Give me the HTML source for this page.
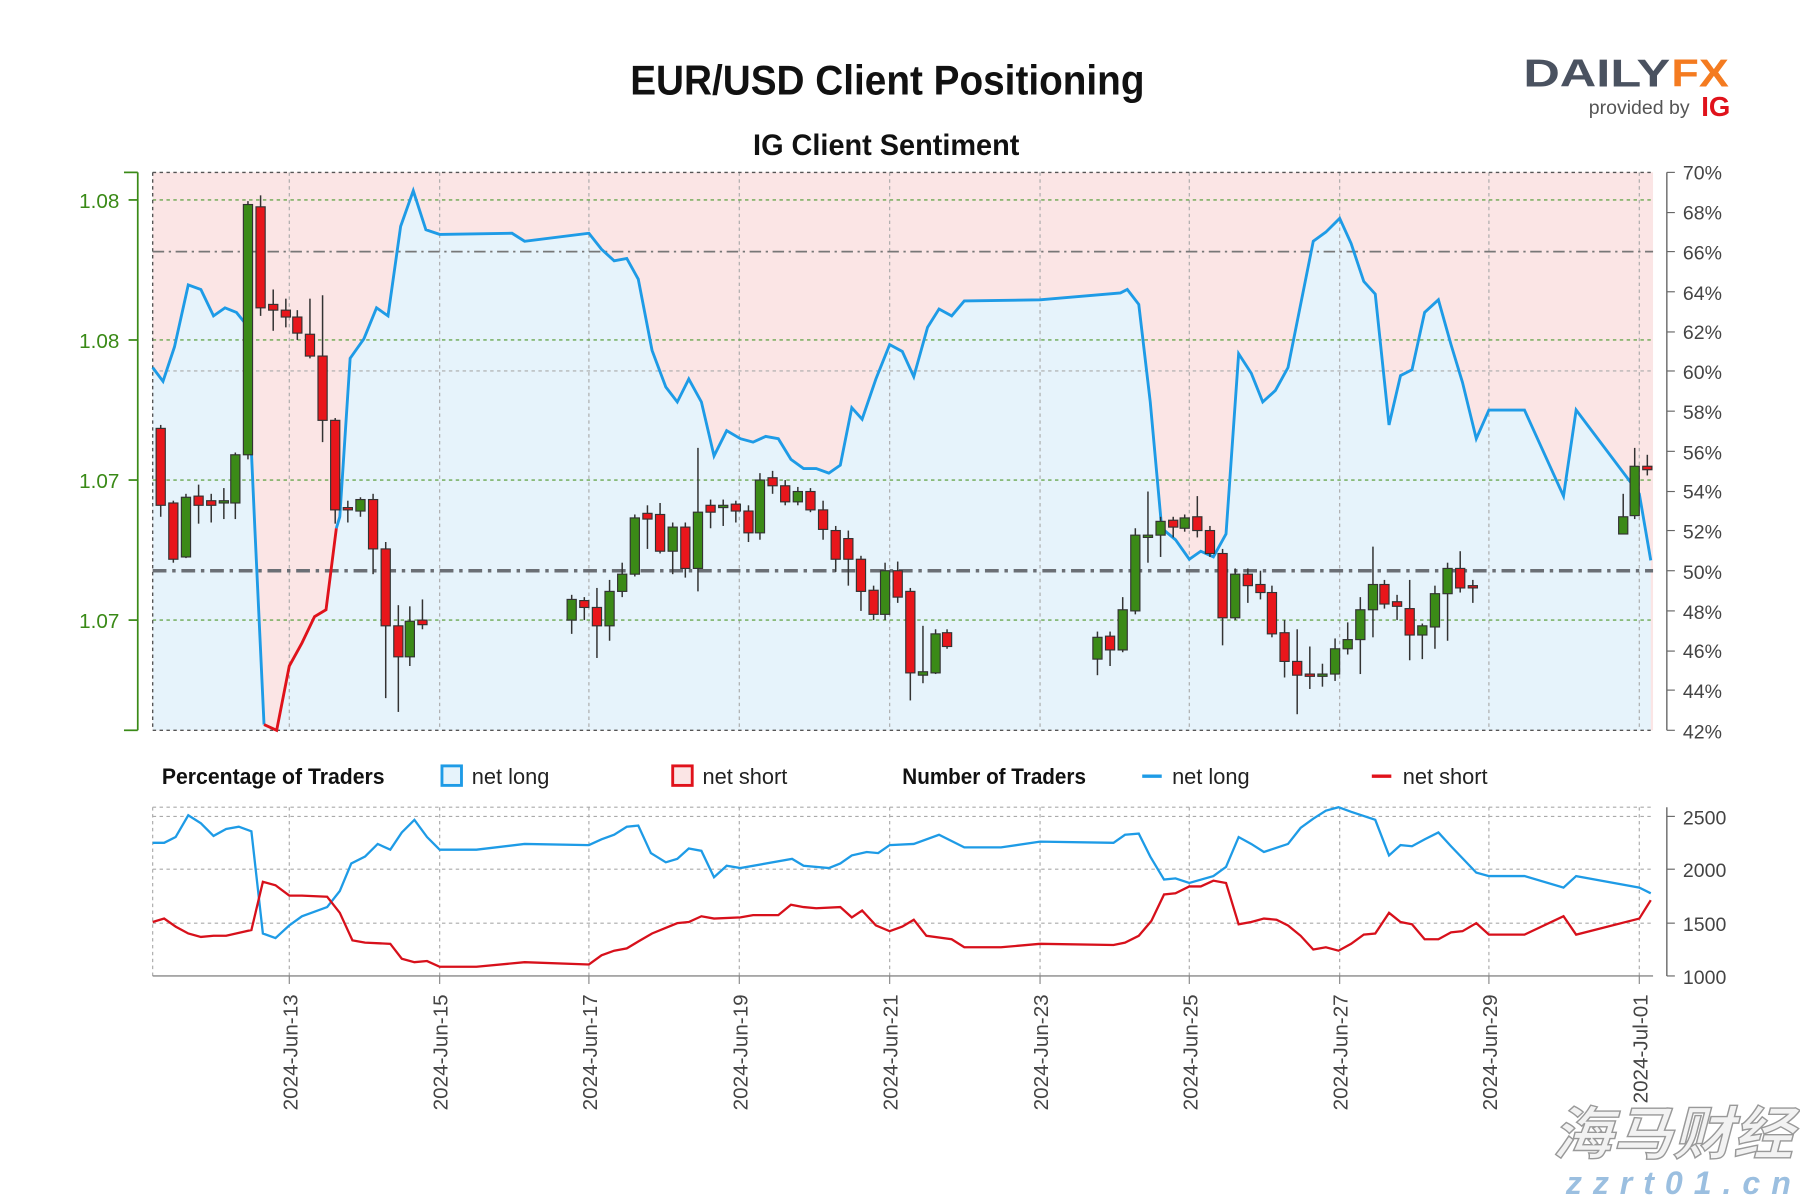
<!DOCTYPE html>
<html><head><meta charset="utf-8"><style>
html,body{margin:0;padding:0;background:#fff;}
svg{display:block;font-family:"Liberation Sans",sans-serif;}
.r{fill:#e8161b;stroke:#333;stroke-width:1}
.g{fill:#3b8a17;stroke:#333;stroke-width:1}
.w{stroke:#333;stroke-width:1.3}
.dl{font-size:18px;fill:#444}
.rl{font-size:17px;fill:#444}
</style></head><body>
<svg width="1800" height="1200" viewBox="0 0 1568 1045">
<rect width="1568" height="1045" fill="#fff"/>
<text x="773" y="82" text-anchor="middle" font-size="36" font-weight="bold" textLength="448" lengthAdjust="spacingAndGlyphs" fill="#111">EUR/USD Client Positioning</text>
<text x="772" y="135" text-anchor="middle" font-size="26" font-weight="bold" textLength="232" lengthAdjust="spacingAndGlyphs" fill="#111">IG Client Sentiment</text>
<text x="1327" y="75" font-size="34" font-weight="bold" fill="#4a5260" textLength="128" lengthAdjust="spacingAndGlyphs">DAILY</text>
<text x="1456" y="75" font-size="34" font-weight="bold" fill="#f47b20" textLength="50" lengthAdjust="spacingAndGlyphs">FX</text>
<text x="1384" y="99" font-size="17" fill="#555">provided by</text>
<text x="1482" y="101" font-size="24" font-weight="bold" fill="#e0121b">IG</text>

<rect x="133" y="150" width="1307" height="486" fill="#fbe5e5"/>
<path fill="#e6f3fb" d="M133,320 L142,332 L152,302 L164,248 L175,252 L186,275 L196,268 L206,272 L214,282 L222,460 L230,631 L241,636 L252,580 L263,560 L274,537 L284,531 L293,460 L296,450 L305,312 L317,295 L328,268 L338,275 L349,197 L360,166 L371,200 L383,204 L446,203 L457,210 L513,203 L524,217 L535,227 L546,225 L556,243 L568,305 L580,337 L590,350 L600,330 L611,350 L622,397 L633,375 L645,382 L656,385 L667,380 L678,382 L689,400 L700,408 L711,408 L722,412 L732,405 L742,355 L751,365 L763,330 L775,300 L786,306 L796,328 L808,285 L818,269 L829,275 L840,262 L906,261 L976,255 L982,252 L992,265 L1002,350 L1012,460 L1024,470 L1036,487 L1046,480 L1057,485 L1068,465 L1079,308 L1090,325 L1100,350 L1111,340 L1122,320 L1144,210 L1155,202 L1167,190 L1177,212 L1188,245 L1198,256 L1210,370 L1220,327 L1230,322 L1241,272 L1253,261 L1264,300 L1274,333 L1286,382 L1297,357 L1328,357 L1362,432 L1373,357 L1428,430 L1438,488 L1438,636 L133,636 Z"/>
<g stroke="#aaa" stroke-width="1" stroke-dasharray="3,3">
<line x1="252" y1="150" x2="252" y2="636"/><line x1="383" y1="150" x2="383" y2="636"/><line x1="513" y1="150" x2="513" y2="636"/><line x1="644" y1="150" x2="644" y2="636"/><line x1="775" y1="150" x2="775" y2="636"/><line x1="906" y1="150" x2="906" y2="636"/><line x1="1036" y1="150" x2="1036" y2="636"/><line x1="1167" y1="150" x2="1167" y2="636"/><line x1="1297" y1="150" x2="1297" y2="636"/><line x1="1428" y1="150" x2="1428" y2="636"/>
<line x1="133" y1="323" x2="1440" y2="323"/>
</g>
<g stroke="#6aa84f" stroke-width="1.2" stroke-dasharray="3,3">
<line x1="133" y1="174" x2="1440" y2="174"/><line x1="133" y1="296" x2="1440" y2="296"/><line x1="133" y1="418" x2="1440" y2="418"/><line x1="133" y1="540" x2="1440" y2="540"/>
</g>
<g stroke="#555" stroke-width="1.2" stroke-dasharray="3,3"><line x1="133" y1="150" x2="1440" y2="150"/><line x1="133" y1="636" x2="1440" y2="636"/><line x1="133" y1="150" x2="133" y2="636"/></g>
<line x1="133" y1="219" x2="1440" y2="219" stroke="#777" stroke-width="1.5" stroke-dasharray="10,4,2,4"/>
<line x1="133" y1="497" x2="1440" y2="497" stroke="#6b6f75" stroke-width="3" stroke-dasharray="12,5,3,5"/>
<polyline fill="none" stroke="#1e9be6" stroke-width="2.5" points="133,320 142,332 152,302 164,248 175,252 186,275 196,268 206,272 214,282 222,460 230,631"/>
<polyline fill="none" stroke="#e0121b" stroke-width="2.5" points="230,631 241,636 252,580 263,560 274,537 284,531 293,460"/>
<polyline fill="none" stroke="#1e9be6" stroke-width="2.5" points="293,460 296,450 305,312 317,295 328,268 338,275 349,197 360,166 371,200 383,204 446,203 457,210 513,203 524,217 535,227 546,225 556,243 568,305 580,337 590,350 600,330 611,350 622,397 633,375 645,382 656,385 667,380 678,382 689,400 700,408 711,408 722,412 732,405 742,355 751,365 763,330 775,300 786,306 796,328 808,285 818,269 829,275 840,262 906,261 976,255 982,252 992,265 1002,350 1012,460 1024,470 1036,487 1046,480 1057,485 1068,465 1079,308 1090,325 1100,350 1111,340 1122,320 1144,210 1155,202 1167,190 1177,212 1188,245 1198,256 1210,370 1220,327 1230,322 1241,272 1253,261 1264,300 1274,333 1286,382 1297,357 1328,357 1362,432 1373,357 1428,430 1438,488"/>

<g>
<line class="w" x1="140" y1="370" x2="140" y2="450"/><rect class="r" x="136" y="373" width="8" height="67"/>
<line class="w" x1="151" y1="436" x2="151" y2="490"/><rect class="r" x="147" y="438" width="8" height="49"/>
<line class="w" x1="162" y1="430" x2="162" y2="486"/><rect class="g" x="158" y="433" width="8" height="52"/>
<line class="w" x1="173" y1="422" x2="173" y2="456"/><rect class="r" x="169" y="432" width="8" height="8"/>
<line class="w" x1="184" y1="430" x2="184" y2="455"/><rect class="r" x="180" y="436" width="8" height="4"/>
<line class="w" x1="195" y1="425" x2="195" y2="452"/><rect class="g" x="191" y="436" width="8" height="2"/>
<line class="w" x1="205" y1="394" x2="205" y2="452"/><rect class="g" x="201" y="396" width="8" height="42"/>
<line class="w" x1="216" y1="175" x2="216" y2="400"/><rect class="g" x="212" y="178" width="8" height="218"/>
<line class="w" x1="227" y1="170" x2="227" y2="275"/><rect class="r" x="223" y="180" width="8" height="88"/>
<line class="w" x1="238" y1="252" x2="238" y2="288"/><rect class="r" x="234" y="265" width="8" height="5"/>
<line class="w" x1="249" y1="260" x2="249" y2="285"/><rect class="r" x="245" y="270" width="8" height="6"/>
<line class="w" x1="259" y1="270" x2="259" y2="296"/><rect class="r" x="255" y="276" width="8" height="14"/>
<line class="w" x1="270" y1="260" x2="270" y2="312"/><rect class="r" x="266" y="291" width="8" height="19"/>
<line class="w" x1="281" y1="257" x2="281" y2="385"/><rect class="r" x="277" y="310" width="8" height="56"/>
<line class="w" x1="292" y1="364" x2="292" y2="456"/><rect class="r" x="288" y="366" width="8" height="78"/>
<line class="w" x1="303" y1="436" x2="303" y2="455"/><rect class="r" x="299" y="442" width="8" height="2"/>
<line class="w" x1="314" y1="433" x2="314" y2="450"/><rect class="g" x="310" y="435" width="8" height="10"/>
<line class="w" x1="325" y1="430" x2="325" y2="500"/><rect class="r" x="321" y="435" width="8" height="43"/>
<line class="w" x1="336" y1="472" x2="336" y2="608"/><rect class="r" x="332" y="478" width="8" height="67"/>
<line class="w" x1="347" y1="527" x2="347" y2="620"/><rect class="r" x="343" y="545" width="8" height="27"/>
<line class="w" x1="357" y1="528" x2="357" y2="580"/><rect class="g" x="353" y="541" width="8" height="31"/>
<line class="w" x1="368" y1="522" x2="368" y2="548"/><rect class="r" x="364" y="540" width="8" height="4"/>
<line class="w" x1="498" y1="518" x2="498" y2="552"/><rect class="g" x="494" y="522" width="8" height="18"/>
<line class="w" x1="509" y1="520" x2="509" y2="540"/><rect class="r" x="505" y="523" width="8" height="6"/>
<line class="w" x1="520" y1="512" x2="520" y2="573"/><rect class="r" x="516" y="529" width="8" height="16"/>
<line class="w" x1="531" y1="505" x2="531" y2="558"/><rect class="g" x="527" y="515" width="8" height="30"/>
<line class="w" x1="542" y1="490" x2="542" y2="520"/><rect class="g" x="538" y="500" width="8" height="15"/>
<line class="w" x1="553" y1="448" x2="553" y2="502"/><rect class="g" x="549" y="451" width="8" height="49"/>
<line class="w" x1="564" y1="440" x2="564" y2="478"/><rect class="r" x="560" y="447" width="8" height="5"/>
<line class="w" x1="575" y1="438" x2="575" y2="482"/><rect class="r" x="571" y="448" width="8" height="32"/>
<line class="w" x1="586" y1="455" x2="586" y2="500"/><rect class="g" x="582" y="459" width="8" height="21"/>
<line class="w" x1="597" y1="455" x2="597" y2="503"/><rect class="r" x="593" y="459" width="8" height="36"/>
<line class="w" x1="608" y1="390" x2="608" y2="515"/><rect class="g" x="604" y="446" width="8" height="49"/>
<line class="w" x1="619" y1="435" x2="619" y2="460"/><rect class="r" x="615" y="440" width="8" height="6"/>
<line class="w" x1="630" y1="435" x2="630" y2="458"/><rect class="g" x="626" y="440" width="8" height="2"/>
<line class="w" x1="641" y1="436" x2="641" y2="455"/><rect class="r" x="637" y="439" width="8" height="6"/>
<line class="w" x1="652" y1="440" x2="652" y2="472"/><rect class="r" x="648" y="445" width="8" height="19"/>
<line class="w" x1="662" y1="412" x2="662" y2="470"/><rect class="g" x="658" y="418" width="8" height="46"/>
<line class="w" x1="673" y1="410" x2="673" y2="430"/><rect class="r" x="669" y="416" width="8" height="7"/>
<line class="w" x1="684" y1="418" x2="684" y2="440"/><rect class="r" x="680" y="423" width="8" height="14"/>
<line class="w" x1="695" y1="424" x2="695" y2="440"/><rect class="g" x="691" y="428" width="8" height="9"/>
<line class="w" x1="706" y1="425" x2="706" y2="446"/><rect class="r" x="702" y="428" width="8" height="16"/>
<line class="w" x1="717" y1="436" x2="717" y2="470"/><rect class="r" x="713" y="444" width="8" height="17"/>
<line class="w" x1="728" y1="458" x2="728" y2="498"/><rect class="r" x="724" y="462" width="8" height="25"/>
<line class="w" x1="739" y1="462" x2="739" y2="510"/><rect class="r" x="735" y="469" width="8" height="18"/>
<line class="w" x1="750" y1="484" x2="750" y2="532"/><rect class="r" x="746" y="487" width="8" height="28"/>
<line class="w" x1="761" y1="510" x2="761" y2="540"/><rect class="r" x="757" y="514" width="8" height="21"/>
<line class="w" x1="771" y1="490" x2="771" y2="540"/><rect class="g" x="767" y="497" width="8" height="38"/>
<line class="w" x1="782" y1="489" x2="782" y2="525"/><rect class="r" x="778" y="497" width="8" height="23"/>
<line class="w" x1="793" y1="512" x2="793" y2="610"/><rect class="r" x="789" y="515" width="8" height="71"/>
<line class="w" x1="804" y1="545" x2="804" y2="595"/><rect class="g" x="800" y="585" width="8" height="3"/>
<line class="w" x1="815" y1="548" x2="815" y2="587"/><rect class="g" x="811" y="552" width="8" height="34"/>
<line class="w" x1="825" y1="548" x2="825" y2="565"/><rect class="r" x="821" y="551" width="8" height="12"/>
<line class="w" x1="956" y1="550" x2="956" y2="588"/><rect class="g" x="952" y="555" width="8" height="19"/>
<line class="w" x1="967" y1="550" x2="967" y2="580"/><rect class="r" x="963" y="554" width="8" height="12"/>
<line class="w" x1="978" y1="520" x2="978" y2="568"/><rect class="g" x="974" y="531" width="8" height="35"/>
<line class="w" x1="989" y1="460" x2="989" y2="535"/><rect class="g" x="985" y="466" width="8" height="66"/>
<line class="w" x1="1000" y1="428" x2="1000" y2="490"/><rect class="g" x="996" y="466" width="8" height="2"/>
<line class="w" x1="1011" y1="450" x2="1011" y2="485"/><rect class="g" x="1007" y="454" width="8" height="12"/>
<line class="w" x1="1022" y1="450" x2="1022" y2="468"/><rect class="r" x="1018" y="453" width="8" height="6"/>
<line class="w" x1="1032" y1="448" x2="1032" y2="463"/><rect class="g" x="1028" y="451" width="8" height="9"/>
<line class="w" x1="1043" y1="432" x2="1043" y2="468"/><rect class="r" x="1039" y="450" width="8" height="12"/>
<line class="w" x1="1054" y1="458" x2="1054" y2="485"/><rect class="r" x="1050" y="462" width="8" height="20"/>
<line class="w" x1="1065" y1="478" x2="1065" y2="562"/><rect class="r" x="1061" y="482" width="8" height="56"/>
<line class="w" x1="1076" y1="495" x2="1076" y2="540"/><rect class="g" x="1072" y="500" width="8" height="38"/>
<line class="w" x1="1087" y1="495" x2="1087" y2="525"/><rect class="r" x="1083" y="500" width="8" height="10"/>
<line class="w" x1="1098" y1="497" x2="1098" y2="522"/><rect class="r" x="1094" y="509" width="8" height="7"/>
<line class="w" x1="1108" y1="510" x2="1108" y2="555"/><rect class="r" x="1104" y="516" width="8" height="36"/>
<line class="w" x1="1119" y1="540" x2="1119" y2="590"/><rect class="r" x="1115" y="551" width="8" height="25"/>
<line class="w" x1="1130" y1="548" x2="1130" y2="622"/><rect class="r" x="1126" y="576" width="8" height="12"/>
<line class="w" x1="1141" y1="563" x2="1141" y2="600"/><rect class="r" x="1137" y="587" width="8" height="2"/>
<line class="w" x1="1152" y1="578" x2="1152" y2="598"/><rect class="g" x="1148" y="587" width="8" height="2"/>
<line class="w" x1="1163" y1="556" x2="1163" y2="593"/><rect class="g" x="1159" y="565" width="8" height="22"/>
<line class="w" x1="1174" y1="542" x2="1174" y2="570"/><rect class="g" x="1170" y="557" width="8" height="8"/>
<line class="w" x1="1185" y1="520" x2="1185" y2="587"/><rect class="g" x="1181" y="531" width="8" height="26"/>
<line class="w" x1="1196" y1="476" x2="1196" y2="555"/><rect class="g" x="1192" y="509" width="8" height="22"/>
<line class="w" x1="1206" y1="505" x2="1206" y2="530"/><rect class="r" x="1202" y="509" width="8" height="17"/>
<line class="w" x1="1217" y1="518" x2="1217" y2="540"/><rect class="r" x="1213" y="524" width="8" height="4"/>
<line class="w" x1="1228" y1="505" x2="1228" y2="575"/><rect class="r" x="1224" y="530" width="8" height="23"/>
<line class="w" x1="1239" y1="543" x2="1239" y2="574"/><rect class="g" x="1235" y="545" width="8" height="8"/>
<line class="w" x1="1250" y1="510" x2="1250" y2="565"/><rect class="g" x="1246" y="517" width="8" height="29"/>
<line class="w" x1="1261" y1="490" x2="1261" y2="558"/><rect class="g" x="1257" y="495" width="8" height="22"/>
<line class="w" x1="1272" y1="480" x2="1272" y2="516"/><rect class="r" x="1268" y="495" width="8" height="17"/>
<line class="w" x1="1283" y1="505" x2="1283" y2="525"/><rect class="r" x="1279" y="510" width="8" height="2"/>
<line class="w" x1="1414" y1="430" x2="1414" y2="465"/><rect class="g" x="1410" y="450" width="8" height="15"/>
<line class="w" x1="1424" y1="390" x2="1424" y2="452"/><rect class="g" x="1420" y="406" width="8" height="43"/>
<line class="w" x1="1435" y1="396" x2="1435" y2="414"/><rect class="r" x="1431" y="406" width="8" height="3"/>
</g>

<line x1="120" y1="150" x2="120" y2="636" stroke="#3a8a17" stroke-width="1.5"/>
<g stroke="#3a8a17" stroke-width="1.5"><line x1="108" y1="150" x2="120" y2="150"/><line x1="108" y1="636" x2="120" y2="636"/><line x1="112" y1="174" x2="120" y2="174"/><line x1="112" y1="296" x2="120" y2="296"/><line x1="112" y1="418" x2="120" y2="418"/><line x1="112" y1="540" x2="120" y2="540"/></g>
<g font-size="18" fill="#3a8a17" text-anchor="end"><text x="104" y="181">1.08</text><text x="104" y="303">1.08</text><text x="104" y="425">1.07</text><text x="104" y="547">1.07</text></g>
<line x1="1452" y1="150" x2="1452" y2="636" stroke="#666" stroke-width="1.2"/>
<g class="rl">
<text x="1466" y="156">70%</text><text x="1466" y="191">68%</text><text x="1466" y="226">66%</text><text x="1466" y="261">64%</text><text x="1466" y="295">62%</text><text x="1466" y="330">60%</text><text x="1466" y="365">58%</text><text x="1466" y="400">56%</text><text x="1466" y="434">54%</text><text x="1466" y="469">52%</text><text x="1466" y="504">50%</text><text x="1466" y="539">48%</text><text x="1466" y="573">46%</text><text x="1466" y="608">44%</text><text x="1466" y="643">42%</text>
</g>
<g stroke="#666"><line x1="1452" y1="150" x2="1459" y2="150"/><line x1="1452" y1="185" x2="1459" y2="185"/><line x1="1452" y1="219" x2="1459" y2="219"/><line x1="1452" y1="254" x2="1459" y2="254"/><line x1="1452" y1="289" x2="1459" y2="289"/><line x1="1452" y1="323" x2="1459" y2="323"/><line x1="1452" y1="358" x2="1459" y2="358"/><line x1="1452" y1="393" x2="1459" y2="393"/><line x1="1452" y1="428" x2="1459" y2="428"/><line x1="1452" y1="462" x2="1459" y2="462"/><line x1="1452" y1="497" x2="1459" y2="497"/><line x1="1452" y1="532" x2="1459" y2="532"/><line x1="1452" y1="567" x2="1459" y2="567"/><line x1="1452" y1="601" x2="1459" y2="601"/><line x1="1452" y1="636" x2="1459" y2="636"/></g>

<g font-size="19">
<text x="141" y="683" font-weight="bold" fill="#111" textLength="194" lengthAdjust="spacingAndGlyphs">Percentage of Traders</text>
<rect x="385" y="667" width="17" height="17" fill="#e6f3fb" stroke="#1e9be6" stroke-width="2.5"/>
<text x="411" y="683" fill="#222">net long</text>
<rect x="586" y="667" width="17" height="17" fill="#fbe5e5" stroke="#e0121b" stroke-width="2.5"/>
<text x="612" y="683" fill="#222">net short</text>
<text x="786" y="683" font-weight="bold" fill="#111" textLength="160" lengthAdjust="spacingAndGlyphs">Number of Traders</text>
<line x1="995" y1="676" x2="1012" y2="676" stroke="#1e9be6" stroke-width="3"/>
<text x="1021" y="683" fill="#222">net long</text>
<line x1="1195" y1="676" x2="1212" y2="676" stroke="#e0121b" stroke-width="3"/>
<text x="1222" y="683" fill="#222">net short</text>
</g>

<g stroke="#aaa" stroke-width="1" stroke-dasharray="3,3">
<line x1="133" y1="703" x2="1440" y2="703"/><line x1="133" y1="711" x2="1440" y2="711"/><line x1="133" y1="757" x2="1440" y2="757"/><line x1="133" y1="804" x2="1440" y2="804"/><line x1="133" y1="703" x2="133" y2="850"/>
<line x1="252" y1="703" x2="252" y2="850"/><line x1="383" y1="703" x2="383" y2="850"/><line x1="513" y1="703" x2="513" y2="850"/><line x1="644" y1="703" x2="644" y2="850"/><line x1="775" y1="703" x2="775" y2="850"/><line x1="906" y1="703" x2="906" y2="850"/><line x1="1036" y1="703" x2="1036" y2="850"/><line x1="1167" y1="703" x2="1167" y2="850"/><line x1="1297" y1="703" x2="1297" y2="850"/><line x1="1428" y1="703" x2="1428" y2="850"/>
</g>
<line x1="133" y1="850" x2="1440" y2="850" stroke="#888" stroke-width="1.2"/>
<line x1="1452" y1="703" x2="1452" y2="850" stroke="#666" stroke-width="1.2"/>
<g stroke="#666"><line x1="1452" y1="711" x2="1459" y2="711"/><line x1="1452" y1="757" x2="1459" y2="757"/><line x1="1452" y1="804" x2="1459" y2="804"/><line x1="1452" y1="850" x2="1459" y2="850"/></g>
<g class="rl"><text x="1466" y="718">2500</text><text x="1466" y="764">2000</text><text x="1466" y="811">1500</text><text x="1466" y="857">1000</text></g>
<g stroke="#888"><line x1="252" y1="850" x2="252" y2="857"/><line x1="383" y1="850" x2="383" y2="857"/><line x1="513" y1="850" x2="513" y2="857"/><line x1="644" y1="850" x2="644" y2="857"/><line x1="775" y1="850" x2="775" y2="857"/><line x1="906" y1="850" x2="906" y2="857"/><line x1="1036" y1="850" x2="1036" y2="857"/><line x1="1167" y1="850" x2="1167" y2="857"/><line x1="1297" y1="850" x2="1297" y2="857"/><line x1="1428" y1="850" x2="1428" y2="857"/></g>
<polyline fill="none" stroke="#1e9be6" stroke-width="2" points="133,734 143,734 153,729 164,710 175,717 186,728 197,722 208,720 219,724 229,813 240,817 252,806 263,798 274,794 285,790 296,776 306,752 318,746 329,735 340,740 350,725 361,714 372,729 383,740 415,740 457,735 513,736 524,731 535,727 546,720 556,719 567,743 580,751 590,748 600,739 611,741 622,764 633,754 645,756 690,748 700,754 722,756 732,752 742,745 755,742 765,743 775,736 796,735 818,727 840,738 872,738 906,733 970,734 980,727 992,726 1002,746 1014,766 1024,765 1036,769 1057,763 1068,755 1079,729 1090,735 1101,742 1122,735 1133,721 1144,713 1155,706 1166,703 1177,707 1198,714 1210,745 1220,736 1230,737 1241,731 1253,725 1264,737 1286,760 1297,763 1328,763 1362,773 1373,763 1428,773 1438,778"/>
<polyline fill="none" stroke="#d7101b" stroke-width="2" points="133,803 143,800 153,807 164,813 175,816 186,815 197,815 219,810 229,768 240,771 252,780 263,780 285,781 296,795 307,819 318,821 340,822 350,835 361,838 372,837 383,842 415,842 457,838 513,840 524,832 535,828 546,826 556,820 568,813 590,804 600,803 611,798 622,800 645,799 656,797 678,797 689,788 700,790 711,791 732,790 742,799 751,793 763,806 775,811 786,807 796,801 807,815 829,818 840,825 872,825 906,822 970,823 980,821 992,815 1003,802 1014,779 1024,778 1036,772 1046,772 1057,767 1068,769 1079,805 1090,803 1101,800 1112,801 1122,806 1133,815 1144,827 1155,825 1166,828 1177,822 1188,814 1198,813 1210,795 1220,803 1230,805 1241,818 1253,818 1264,812 1274,811 1286,804 1297,814 1328,814 1362,798 1373,814 1428,800 1438,784"/>

<g class="dl" text-anchor="end">
<text transform="translate(259,866) rotate(-90)">2024-Jun-13</text>
<text transform="translate(390,866) rotate(-90)">2024-Jun-15</text>
<text transform="translate(520,866) rotate(-90)">2024-Jun-17</text>
<text transform="translate(651,866) rotate(-90)">2024-Jun-19</text>
<text transform="translate(782,866) rotate(-90)">2024-Jun-21</text>
<text transform="translate(913,866) rotate(-90)">2024-Jun-23</text>
<text transform="translate(1043,866) rotate(-90)">2024-Jun-25</text>
<text transform="translate(1174,866) rotate(-90)">2024-Jun-27</text>
<text transform="translate(1304,866) rotate(-90)">2024-Jun-29</text>
<text transform="translate(1435,866) rotate(-90)">2024-Jul-01</text>
</g>

<text x="1352" y="1005" font-family="'Noto Sans CJK SC',sans-serif" font-size="50" font-style="italic" font-weight="bold" fill="#f2f2f2" stroke="#999" stroke-width="1.2" textLength="210" lengthAdjust="spacingAndGlyphs">海马财经</text>
<text x="1364" y="1040" font-size="28" font-style="italic" font-weight="bold" fill="#9bbfe0" textLength="196" lengthAdjust="spacing">zzrt01.cn</text>
</svg>
</body></html>
